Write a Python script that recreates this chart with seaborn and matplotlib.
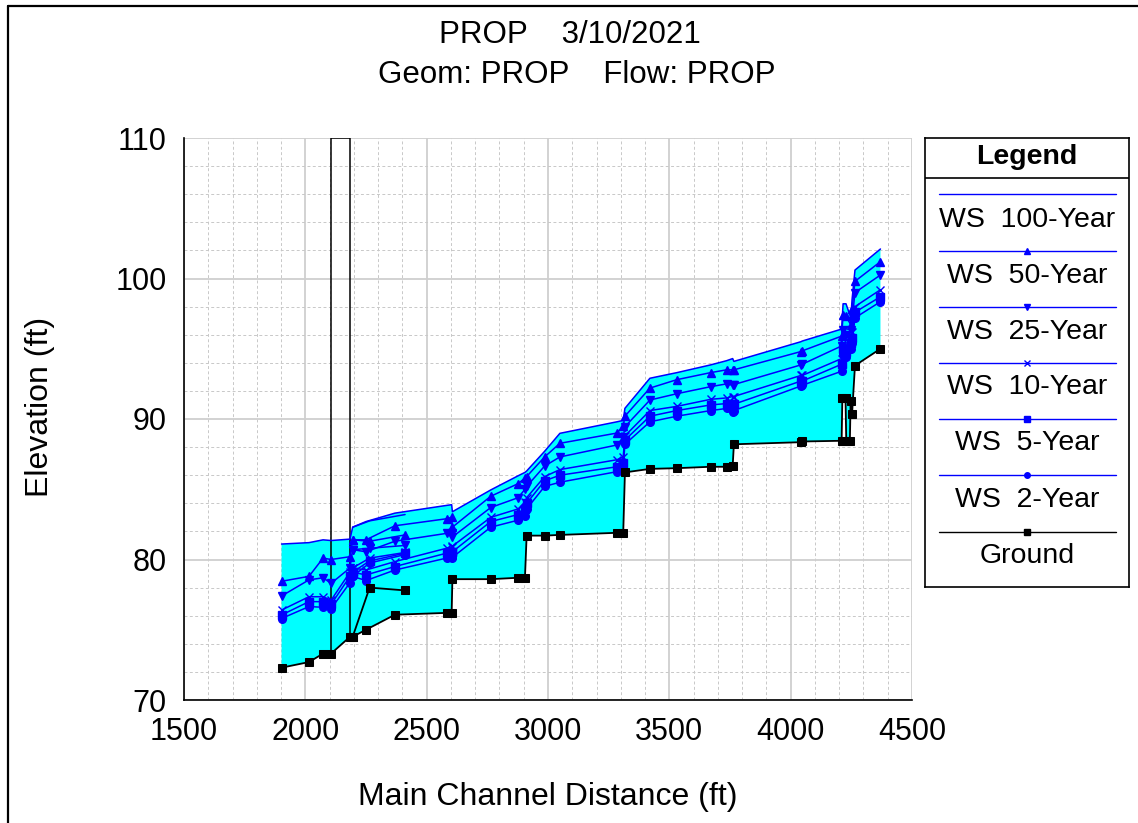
import matplotlib
matplotlib.use("Agg")
import matplotlib.pyplot as plt
import seaborn as sns
from matplotlib.lines import Line2D
from matplotlib.ticker import MultipleLocator

sns.set_style("white")
plt.rcParams['font.family'] = ['Liberation Sans', 'DejaVu Sans']
plt.rcParams['text.color'] = 'black'
plt.rcParams['xtick.color'] = 'black'
plt.rcParams['ytick.color'] = 'black'
plt.rcParams['axes.labelcolor'] = 'black'

# main reach river stations (main channel distance, ft)
stations = [1902, 2015, 2073, 2106, 2184, 2195, 2250, 2369, 2582, 2603, 2606,
            2764, 2877, 2905, 2912, 2986, 3049, 3284, 3310, 3317, 3420, 3531,
            3670, 3736, 3761, 3766, 4042, 4048, 4210, 4216, 4228, 4248, 4253,
            4265, 4370]
ws100 = [81.1, 81.2, 81.4, 81.35, 81.45, 82.3, 82.7, 83.3, 83.85, 83.9, 83.4,
         84.95, 85.96, 86.2, 86.3, 87.7, 88.98, 89.8, 89.9, 90.76, 92.9, 93.3,
         93.85, 94.15, 94.3, 94.1, 95.5, 95.55, 96.4, 98.2, 98.2, 97.2, 98.5,
         100.6, 102.1]
ws50 = [78.45, 78.8, 80.1, 80.0, 80.2, 81.4, 81.4, 82.4, 82.9, 83.0, 82.3,
        84.5, 85.4, 85.8, 85.9, 87.3, 88.27, 89.0, 89.5, 90.2, 92.2, 92.8,
        93.3, 93.5, 93.5, 93.5, 94.8, 94.85, 95.9, 97.4, 97.3, 96.7, 97.8,
        99.8, 101.2]
ws25 = [77.4, 78.55, 78.7, 78.3, 79.4, 80.7, 80.55, 81.3, 81.86, 81.9, 81.6,
        83.7, 84.4, 85.0, 85.2, 86.65, 87.3, 88.15, 88.7, 89.45, 91.35, 91.8,
        92.3, 92.5, 92.4, 92.45, 93.85, 93.9, 95.2, 96.3, 96.0, 96.3, 97.0,
        99.0, 100.25]
ws10 = [76.4, 77.35, 77.35, 77.1, 79.1, 79.4, 79.25, 79.85, 80.8, 80.9, 80.95,
        83.0, 83.6, 84.1, 84.4, 85.9, 86.4, 87.1, 87.3, 88.8, 90.6, 90.9,
        91.4, 91.5, 91.6, 91.6, 93.1, 93.1, 94.3, 95.4, 95.2, 95.8, 96.2,
        98.0, 99.2]
ws5 = [76.05, 77.0, 77.0, 76.8, 78.8, 79.1, 78.9, 79.5, 80.45, 80.5, 80.55,
       82.7, 83.2, 83.6, 84.0, 85.6, 86.0, 86.6, 86.9, 88.5, 90.2, 90.6,
       91.0, 91.1, 91.0, 91.05, 92.7, 92.7, 93.9, 95.0, 94.8, 95.4, 95.8,
       97.6, 98.7]
ws2 = [75.8, 76.65, 76.6, 76.5, 78.35, 78.8, 78.5, 79.25, 80.1, 80.1, 80.15,
       82.3, 82.8, 83.1, 83.6, 85.2, 85.5, 86.25, 86.6, 88.2, 89.8, 90.2,
       90.6, 90.75, 90.5, 90.6, 92.35, 92.4, 93.4, 94.6, 94.4, 95.0, 95.4,
       97.2, 98.35]

ground_x = [1902, 2015, 2073, 2106, 2184, 2195, 2250, 2369, 2582, 2603, 2606,
            2764, 2877, 2905, 2912, 2986, 3049, 3284, 3310, 3317, 3420, 3531,
            3670, 3736, 3761, 3766, 4042, 4048, 4210, 4213, 4226, 4229, 4244,
            4247, 4253, 4265, 4370]
ground_y = [72.3, 72.7, 73.3, 73.3, 74.5, 74.5, 75.0, 76.07, 76.2, 76.2, 78.6,
            78.6, 78.7, 78.7, 81.7, 81.7, 81.75, 81.9, 81.9, 86.2, 86.45, 86.5,
            86.6, 86.6, 86.65, 88.2, 88.35, 88.4, 88.45, 91.5, 91.5, 88.45, 88.45,
            91.3, 90.35, 93.8, 95.0]

# side branch
side_x = [2195, 2265, 2411]
side_ground = [74.5, 78.0, 77.8]
side_ws100 = [82.3, 82.75, 83.2]
side_ws50 = [81.4, 81.3, 81.75]
side_ws25 = [80.7, 80.8, 81.0]
side_ws10 = [79.4, 80.1, 80.5]
side_ws5 = [79.1, 79.9, 80.45]
side_ws2 = [78.8, 79.75, 80.35]

# bridge / culvert outline
bridge_x = [2106, 2106, 2184, 2184]
bridge_y = [73.3, 110, 110, 74.5]

profiles = [
    ("WS  100-Year", ws100, side_ws100, None),
    ("WS  50-Year", ws50, side_ws50, "^"),
    ("WS  25-Year", ws25, side_ws25, "v"),
    ("WS  10-Year", ws10, side_ws10, "x"),
    ("WS  5-Year", ws5, side_ws5, "s"),
    ("WS  2-Year", ws2, side_ws2, "o"),
]

fig = plt.figure(figsize=(11.38, 8.23), dpi=100)
ax = fig.add_axes([184 / 1138, 123 / 823, 728 / 1138, 562 / 823])

ax.fill(stations + ground_x[::-1], ws100 + ground_y[::-1],
        color="#00FFFF", lw=0, zorder=1)

for label, main, side, mk in profiles:
    for xs, ys in ((stations, main), (side_x, side)):
        sns.lineplot(x=xs, y=ys, ax=ax, color="#0000FF", lw=1.1,
                     marker=mk if mk else None, markersize=5.5 if mk != "x" else 6,
                     markeredgecolor="#0000FF", markeredgewidth=1,
                     sort=False, estimator=None, zorder=3)

for xs, ys in ((ground_x, ground_y), (side_x, side_ground)):
    sns.lineplot(x=xs, y=ys, ax=ax, color="black", lw=1.3, marker="s",
                 markersize=6, markeredgecolor="black", sort=False,
                 estimator=None, zorder=4)

ax.plot(bridge_x, bridge_y, color="black", lw=1.1, zorder=2)

ax.set_xlim(1500, 4500)
ax.set_ylim(70, 110)
ax.xaxis.set_major_locator(MultipleLocator(500))
ax.xaxis.set_minor_locator(MultipleLocator(100))
ax.yaxis.set_major_locator(MultipleLocator(10))
ax.yaxis.set_minor_locator(MultipleLocator(2))
ax.grid(which="major", color="#cfcfcf", lw=1.3, ls="-", zorder=0)
ax.grid(which="minor", color="#c8c8c8", lw=0.7, ls=(0, (3, 2.5)), zorder=0)
ax.set_axisbelow(True)
ax.tick_params(which="major", direction="out", length=8.6, width=1,
               labelsize=22, color="black", pad=4)
ax.tick_params(axis="x", which="minor", direction="out", length=5.8, width=1)
ax.tick_params(axis="y", which="minor", length=0)
for s in ("top", "right"):
    ax.spines[s].set_visible(False)
for s in ("left", "bottom"):
    ax.spines[s].set_color("black")
    ax.spines[s].set_linewidth(1.2)
ax.set_xlabel("")
ax.set_ylabel("")

fig.text(0.501, 1 - 35 / 823, "PROP    3/10/2021", ha="center", va="center", fontsize=22.5)
fig.text(0.507, 1 - 75 / 823, "Geom: PROP    Flow: PROP", ha="center", va="center", fontsize=22.5)
fig.text(548 / 1138, 1 - 797 / 823, "Main Channel Distance (ft)", ha="center", va="center", fontsize=23)
fig.text(40 / 1138, 1 - 407 / 823, "Elevation (ft)", ha="center", va="center",
         rotation=90, fontsize=23)

# legend panel
lg = fig.add_axes([925 / 1138, (823 - 587) / 823, 204 / 1138, 449 / 823])
lg.set_xlim(0, 204)
lg.set_ylim(449, 0)
lg.set_xticks([])
lg.set_yticks([])
for s in lg.spines.values():
    s.set_color("black")
    s.set_linewidth(1.2)
lg.axhline(40, color="black", lw=1.2)
lg.text(102, 19, "Legend", ha="center", va="center", fontsize=20.5, fontweight="bold")
line_y = [56, 113, 169, 225, 281, 337, 394]
text_y = [82, 138, 194, 249, 305, 362, 418]
entries = [(p[0], p[3], "#0000FF") for p in profiles] + [("Ground", "s", "black")]
for (label, mk, col), ly, ty in zip(entries, line_y, text_y):
    lg.plot([14, 191], [ly, ly], color=col, lw=1)
    if mk:
        lg.plot([102], [ly], marker=mk, color=col, markersize=4, markeredgewidth=1)
    lg.text(102, ty, label, ha="center", va="center", fontsize=20.5)

fig.add_artist(Line2D([8 / 1138, 8 / 1138], [0, 1 - 6 / 823], color="black", lw=1.6))
fig.add_artist(Line2D([8 / 1138, 1], [1 - 6 / 823, 1 - 6 / 823], color="black", lw=1.6))

fig.savefig("out.png", dpi=100)
